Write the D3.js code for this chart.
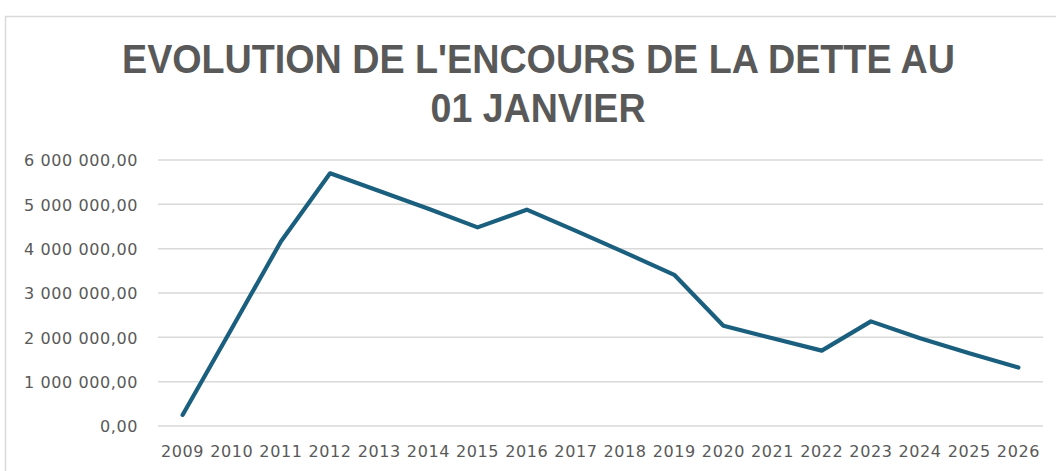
<!DOCTYPE html>
<html><head><meta charset="utf-8">
<script src="https://cdn.jsdelivr.net/npm/d3@7"></script>
<style>html,body{margin:0;padding:0;background:#fff;overflow:hidden}</style>
</head><body>
<script>
const titleLines = ["EVOLUTION DE L'ENCOURS DE LA DETTE AU", "01 JANVIER"];
const years = ["2009","2010","2011","2012","2013","2014","2015","2016","2017","2018","2019","2020","2021","2022","2023","2024","2025","2026"];
const encours = [250000, 2200000, 4160000, 5700000, 5300000, 4900000, 4480000, 4880000, 4400000, 3910000, 3410000, 2260000, 1980000, 1700000, 2360000, 1980000, 1640000, 1320000];
const yTicks = [0, 1000000, 2000000, 3000000, 4000000, 5000000, 6000000];

const W = 1056, H = 471;
const svg = d3.select("body").append("svg").attr("width", W).attr("height", H);

// chart frame
svg.append("rect").attr("x", 5.5).attr("y", 16.5).attr("width", W + 10).attr("height", H + 10)
  .attr("fill", "#fff").attr("stroke", "#d9d9d9").attr("stroke-width", 1.5);

// title
const title = svg.append("g").attr("font-family", "Liberation Sans, Arial, sans-serif")
  .attr("font-weight", "bold").attr("fill", "#595959").attr("text-anchor", "middle");
title.append("text").attr("x", 538.5).attr("y", 72.5).attr("font-size", 40)
  .attr("textLength", 833).attr("lengthAdjust", "spacingAndGlyphs").text(titleLines[0]);
title.append("text").attr("x", 538).attr("y", 122).attr("font-size", 40)
  .attr("textLength", 215).attr("lengthAdjust", "spacingAndGlyphs").text(titleLines[1]);

const x = d3.scaleBand().domain(years).range([158, 1043]);
const y = d3.scaleLinear().domain([0, 6000000]).range([426, 160]);

const fmt = v => {
  const s = d3.format(",.2f")(v);
  return s.replace(/,/g, " ").replace(".", ",");
};

// grid
svg.append("g").selectAll("line").data(yTicks).join("line")
  .attr("x1", 158).attr("x2", 1043)
  .attr("y1", d => y(d)).attr("y2", d => y(d))
  .attr("stroke", "#d9d9d9").attr("stroke-width", 1.5);

// y axis labels
const yAxis = d3.axisLeft(y).tickValues(yTicks).tickFormat(fmt).tickSize(0).tickPadding(0);
const gy = svg.append("g").attr("transform", "translate(138,0)").call(yAxis);
gy.select(".domain").remove();
gy.selectAll("text").attr("font-family", "DejaVu Sans, sans-serif").attr("font-size", 16)
  .attr("fill", "#595959").attr("dy", "0.36em").attr("letter-spacing", "0.6");

// x axis labels
const xAxis = d3.axisBottom(x).tickSize(0).tickPadding(0);
const gx = svg.append("g").attr("transform", "translate(0,440)").call(xAxis);
gx.select(".domain").remove();
gx.selectAll("text").attr("font-family", "DejaVu Sans, sans-serif").attr("font-size", 16)
  .attr("fill", "#595959").attr("dy", "1.05em").attr("letter-spacing", "0.6");

// line
const line = d3.line().x((d, i) => x(years[i]) + x.bandwidth() / 2).y(d => y(d));
svg.append("path").datum(encours).attr("d", line).attr("fill", "none")
  .attr("stroke", "#1b5f7f").attr("stroke-width", 4.2)
  .attr("stroke-linejoin", "round").attr("stroke-linecap", "round");
</script>
</body></html>
